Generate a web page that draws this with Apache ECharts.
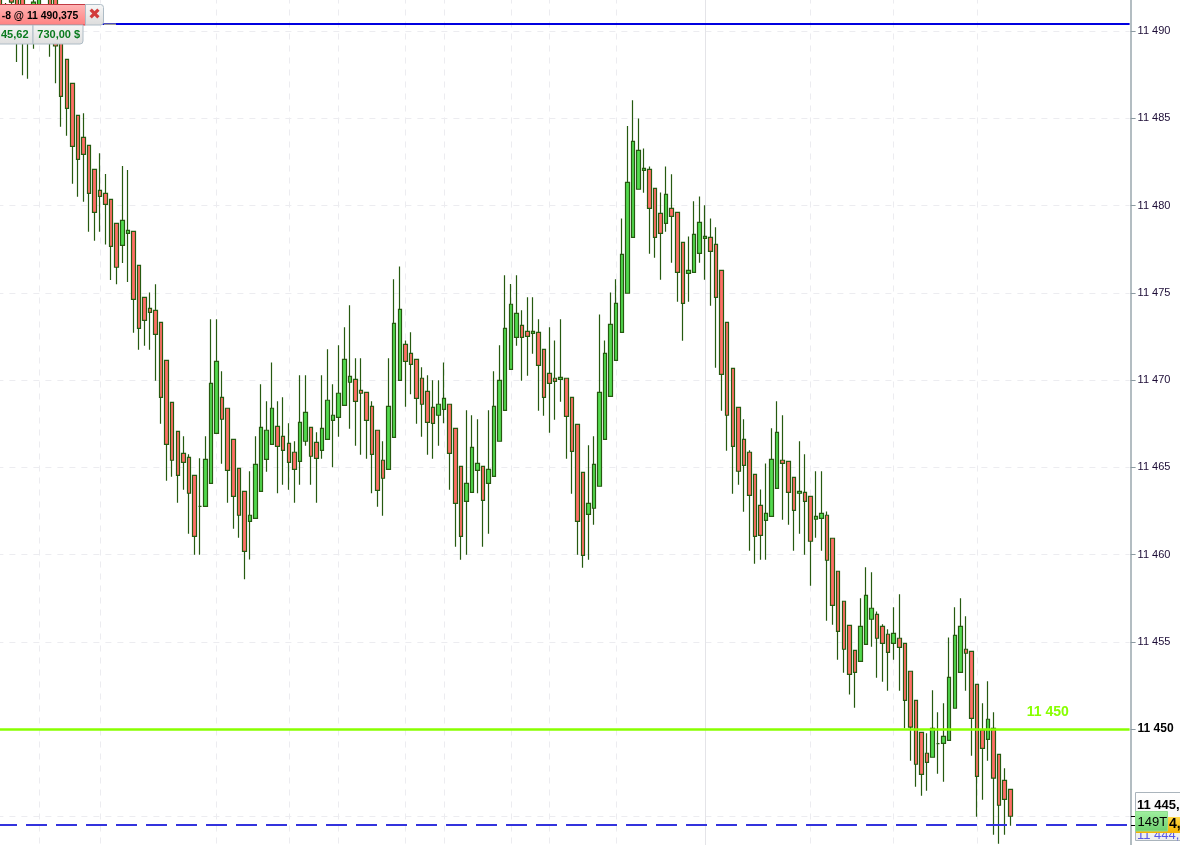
<!DOCTYPE html>
<html><head><meta charset="utf-8">
<style>html,body{margin:0;padding:0;background:#fff}#c{width:1180px;height:845px}</style>
<script src="https://cdn.jsdelivr.net/npm/echarts@6/dist/echarts.min.js"></script>
</head><body><div id="c"></div>
<script>
const opens=[11492.06,11490.06,11492.35,11492.06,11492.35,11490.63,11490.06,11490.17,11490.63,11492.06,
11491.94,11490.06,11488.37,11487,11485.17,11483.9,11483.45,11482.07,11480.87,11480.7,
11480.35,11478.98,11477.72,11478.4,11478.52,11476.57,11474.74,11474.11,11473.99,11473.3,
11471.13,11468.72,11467.06,11465.8,11465.57,11464.54,11462.76,11462.76,11464.08,11466.94,
11469.01,11468.38,11466.6,11464.94,11463.62,11461.9,11462.07,11463.62,11465.45,11466.31,
11467.34,11466.77,11466.37,11465.86,11465.34,11466.49,11467.29,11466.43,11465.97,11466.6,
11467.69,11467.86,11468.55,11469.87,11470.04,11469.41,11469.29,11468.49,11467.12,11465.4,
11464.88,11466.71,11469.98,11472.04,11471.53,11471.18,11470.1,11469.35,11468.43,11467.98,
11468.32,11468.61,11467.23,11465.05,11463.05,11463.56,11464.82,11465.05,11464.08,11464.48,
11466.49,11468.26,11470.61,11472.44,11473.13,11472.79,11472.67,11472.73,11471.76,11470.38,
11470.1,11470.04,11470.1,11469.01,11467.46,11464.71,11462.3,11462.65,11463.91,11466.6,
11469.06,11471.13,11472.73,11474.97,11478.17,11480.93,11482.01,11482.07,11480.98,11479.55,
11478.98,11479.84,11479.61,11477.89,11476.11,11476.17,11477.26,11478.12,11478.17,11477.77,
11476.28,11473.3,11470.67,11468.43,11466.6,11465.86,11464.59,11462.82,11461.96,11462.19,
11463.79,11465.4,11465.34,11464.42,11463.51,11463.56,11463.33,11462.02,11462.07,11462.25,
11460.93,11459.04,11457.32,11455.94,11454.51,11453.88,11454.85,11456.29,11456.57,11455.88,
11455.43,11454.91,11455.2,11454.91,11453.31,11451.64,11449.81,11448.61,11448.38,11449.16,
11449.18,11449.35,11451.19,11453.25,11454.57,11454.45,11452.56,11449.93,11449.41,11450.04,
11448.55,11447.06,11446.54];
const closes=[11490.06,11491.2,11491.66,11490.06,11489.77,11489.48,11491.66,11492.06,11490.06,11490.06,
11489.14,11486.25,11485.57,11483.39,11482.64,11482.93,11480.7,11479.61,11480.52,11480.07,
11477.66,11476.46,11479.15,11478.58,11474.62,11472.96,11473.42,11473.88,11472.62,11469.01,
11466.31,11465.4,11464.54,11465.28,11463.51,11461.04,11462.76,11465.45,11469.81,11471.07,
11467.75,11464.82,11463.33,11462.25,11460.18,11462.25,11465.17,11467.29,11467.12,11468.38,
11466.2,11465.97,11465.28,11464.88,11467.57,11468.15,11465.63,11465.51,11467.23,11468.84,
11467.98,11469.24,11471.18,11470.21,11468.78,11469.24,11467.69,11465.74,11463.68,11464.37,
11468.49,11473.25,11474.05,11471.07,11470.9,11468.95,11468.61,11467.57,11467.52,11468.61,
11468.95,11465.8,11462.93,11461.04,11464.08,11466.14,11465.22,11463.1,11464.88,11468.49,
11469.98,11472.96,11474.34,11473.82,11472.44,11472.5,11472.79,11470.84,11469.01,11469.81,
11469.92,11470.15,11467.92,11465.91,11461.9,11459.95,11462.93,11465.17,11469.29,11471.53,
11473.19,11474.39,11477.2,11481.33,11483.68,11483.16,11482.13,11479.84,11478.17,11478.4,
11480.64,11479.38,11476.17,11474.39,11476.28,11478.35,11479.03,11478.23,11477.37,11474.74,
11470.32,11467.98,11466.2,11464.77,11465.11,11463.39,11461.04,11461.1,11462.36,11465.45,
11467,11465.22,11463.56,11462.53,11463.62,11463.05,11460.76,11462.19,11462.36,11459.67,
11457.09,11455.6,11454.57,11453.13,11453.25,11455.88,11457.66,11456.92,11455.2,11454.91,
11454.39,11455.48,11454.68,11451.64,11450.11,11447.98,11447.4,11448.09,11450.04,11449.16,
11449.58,11452.96,11455.37,11455.88,11454.34,11450.61,11447.29,11448.89,11450.56,11447.18,
11445.63,11445.97,11445];
const lows=[11489.54,11489.6,11489.5,11488.22,11487.47,11487.26,11488.98,11489.48,11489.71,11488.52,
11487,11484.51,11484,11481.25,11480.5,11480.21,11478.5,11477.98,11478.5,11477.77,
11475.73,11475.48,11476.7,11475.61,11472.71,11471.73,11471.96,11471.73,11469.96,11467.49,
11464.23,11464.46,11462.97,11463.71,11461.19,11459.99,11459.99,11462.76,11464.08,11466.94,
11465.2,11462.97,11461.48,11460.96,11458.58,11459.72,11462.07,11463.62,11464.74,11466.31,
11463.51,11464,11463.71,11462.97,11464,11466.23,11464,11462.97,11465.49,11466.6,
11465,11466.75,11468.55,11467.21,11466.23,11465.72,11465.49,11463.51,11462.74,11462.22,
11464.88,11466.71,11469.98,11468.47,11469.18,11467.49,11466.75,11465.72,11465.49,11466.23,
11467.52,11463.71,11460.45,11459.7,11459.99,11463.56,11463.51,11460.45,11461.19,11464.48,
11466.49,11468.26,11470.61,11471.96,11469.96,11470.24,11471.5,11468.24,11467.95,11466.98,
11467.72,11468.75,11465.49,11463.48,11459.99,11459.24,11459.7,11461.71,11463.91,11466.6,
11469.06,11471.13,11472.73,11474.97,11478.17,11480.93,11480.73,11477.24,11477.01,11475.75,
11478.5,11476.72,11474.49,11472.25,11474.49,11476.17,11476.72,11475.75,11474.26,11470.7,
11468.24,11465.95,11463.48,11464,11462.45,11460.22,11459.47,11459.7,11459.7,11462.19,
11463.79,11461.99,11461.71,11460.22,11461.19,11459.99,11458.21,11460.96,11460.22,11456.21,
11455.98,11453.97,11453.23,11451.97,11451.22,11453.88,11454.85,11454.72,11452.94,11452.71,
11452.19,11453.97,11452.19,11450.04,11448.18,11446.69,11446.18,11446.46,11448.38,11447.44,
11446.98,11449.35,11451.19,11453.25,11452.19,11448.47,11444.97,11445.95,11448.18,11443.94,
11443.43,11443.94,11444.46];
const highs=[11492.5,11491.6,11492.6,11492.5,11492.6,11490.97,11492.2,11492.4,11491,11492.4,
11492.3,11490.4,11488.37,11487,11485.17,11485.28,11483.45,11482.07,11482.99,11481.8,
11480.35,11478.98,11482.26,11482.03,11478.52,11476.57,11474.74,11475.02,11475.48,11473.3,
11471.13,11468.72,11467.06,11466.77,11465.74,11464.54,11465.51,11466.77,11473.48,11473.48,
11470.5,11468.38,11466.6,11464.94,11463.62,11464.77,11466.77,11469.75,11468.78,11471.01,
11468.78,11469.01,11467.52,11466.49,11470.27,11470.27,11467.29,11467,11470.27,11471.76,
11469.75,11471.99,11473.02,11474.28,11471.24,11471.24,11469.29,11468.78,11467.12,11466.49,
11471.24,11475.77,11476.51,11472.27,11472.73,11471.18,11470.73,11470.27,11469.98,11469.98,
11471.01,11468.61,11467.23,11465.05,11468.26,11467.98,11467.75,11465.05,11468.26,11470.5,
11471.99,11476.01,11475.5,11476,11473.99,11474.74,11474.74,11473.48,11471.76,11473.02,
11472.27,11473.48,11470.1,11469.01,11467.46,11464.71,11466.26,11466.77,11473.76,11472.27,
11475.02,11475.77,11479.26,11484.55,11486.03,11484.99,11483.27,11482.24,11480.98,11480.75,
11482.24,11481.79,11479.61,11477.89,11478.23,11480.24,11480.52,11480.01,11479.26,11478.75,
11476.28,11473.3,11470.67,11468.43,11467.75,11465.97,11464.59,11463.73,11465.22,11467.23,
11468.78,11467.98,11465.34,11464.42,11466.49,11465.74,11463.33,11464.77,11464.77,11462.47,
11460.93,11459.04,11457.32,11455.94,11454.51,11457.49,11459.27,11458.98,11456.74,11456,
11455.71,11456.97,11457.72,11454.91,11453.31,11451.64,11449.81,11449.75,11452.22,11450.96,
11451.47,11455.25,11456.97,11457.49,11456.46,11454.45,11452.56,11451.47,11452.73,11450.96,
11448.55,11447.75,11446.54];
const slotCount=204;
const slots=Array.from({length:slotCount},(_,i)=>String(i));
const dashedVerticals=[7,18,39,52,61,73,80,92,99,111,146,161,176];
const solidVerticals=[127];
const blueLevel=11490.4, greenLevel=11450, dashedLevel=11444.5;
const yTickLabels={11490:'11 490',11485:'11 485',11480:'11 480',11475:'11 475',11470:'11 470',11465:'11 465',11460:'11 460',11455:'11 455',11450:'{b|11 450}'};

const barStep=5.55, pxPerUnit=17.45;
const candles=opens.map((o,i)=>[o,closes[i],lows[i],highs[i]]);
const chart=echarts.init(document.getElementById('c'),null,{renderer:'canvas'});
const FONT='"Liberation Sans",Arial,sans-serif';
const txt=(x,y,text,fontSize,fill,weight,extra,el)=>Object.assign({type:'text',z:30,silent:true,x,y,style:Object.assign({text,fontSize,fontFamily:FONT,fontWeight:weight||'normal',fill,textVerticalAlign:'middle'},extra||{})},el||{});
const box=(x,y,w,h,fill,stroke,z,r)=>({type:'rect',z:z||20,silent:true,shape:{x,y,width:w,height:h,r:r||0},style:{fill,stroke:stroke||null,lineWidth:1}});
const grad=(a,b)=>new echarts.graphic.LinearGradient(0,0,0,1,[{offset:0,color:a},{offset:1,color:b}]);
chart.setOption({
  animation:false,
  backgroundColor:'#fff',
  grid:{left:-2.6,top:729-45*pxPerUnit,width:slotCount*barStep,height:55*pxPerUnit,containLabel:false,outerBoundsMode:'none'},
  xAxis:{type:'category',data:slots,boundaryGap:true,axisLine:{show:false},axisTick:{show:false},axisLabel:{show:false},splitLine:{show:false}},
  yAxis:{type:'value',position:'right',offset:1,min:11440,max:11495,interval:5,scale:true,
    axisLine:{show:true,lineStyle:{color:'#9aa7ae',width:1.5}},
    axisTick:{show:true,length:5,lineStyle:{color:'#8c9aa2'}},
    splitLine:{show:true,lineStyle:{color:'#ececf0',type:[6,6],width:1}},
    axisLabel:{margin:7,fontSize:11,fontFamily:FONT,color:'#1c0c36',
      formatter:v=>yTickLabels[v]||'',
      rich:{b:{fontSize:12,fontWeight:'bold',color:'#000',fontFamily:FONT}}}},
  series:[
    {type:'line',data:[],silent:true,z:1,
      markLine:{silent:true,z:1,symbol:'none',animation:false,label:{show:false},
        data:[
          ...dashedVerticals.map(x=>({xAxis:x,lineStyle:{color:'#ececf0',type:[6,6],width:1}})),
          ...solidVerticals.map(x=>({xAxis:x,lineStyle:{color:'#e4e4e8',type:'solid',width:1}}))
        ]}},
    {type:'candlestick',z:3,barWidth:4,data:candles,
      itemStyle:{color:'#52d94e',color0:'#ff6e66',borderColor:'#265a10',borderColor0:'#265a10',borderColorDoji:'#265a10',borderWidth:1.2},
      markLine:{silent:true,z:5,symbol:'none',animation:false,label:{show:false},precision:4,
        data:[
          {yAxis:blueLevel,lineStyle:{color:'#0000e0',type:'solid',width:2}},
          {yAxis:greenLevel,lineStyle:{color:'#88ff00',type:'solid',width:2.5}},
          {yAxis:dashedLevel,lineStyle:{color:'#3333dd',type:[21,9],dashOffset:1.4,width:2}}
        ]}}
  ],
  graphic:[
    box(104,23.5,12,1.5,'#9a9a9a',null),
    txt(1026.7,712.5,'11 450',14,'#88ff00','bold'),
    // order tag, top left
    box(-2,4.5,87.5,20.5,grad('#ffb6b6','#ff8080'),'#c23a44'),
    box(85.5,4.5,18,20.5,grad('#f8f8f8','#dcdcdc'),'#aebcc6',20,[0,3,3,0]),
    txt(94.5,15,'✖',15,'#d23c3c','bold',{textAlign:'center',fontFamily:'"DejaVu Sans"'}),
    txt(1.7,15.5,'-8 @ 11 490,375',11.5,'#000','bold',null,{scaleX:0.905}),
    box(-2,25,35,19,grad('#f6f6f6','#dedede'),'#aebcc6'),
    box(33,25,50,19,grad('#f6f6f6','#dedede'),'#aebcc6',20,[0,0,3,0]),
    txt(1,35,'45,62',11,'#0a7a1e','bold'),
    txt(37.3,35,'730,00 $',11,'#0a7a1e','bold'),
    // price tags, bottom right
    box(1135.5,792.5,46,48,grad('#ffffff','#eeeeee'),'#aab4bc'),
    txt(1137,805,'11 445,',13,'#000','bold'),
    txt(1137,835.5,'11 444,5',13,'#5a5ae6','normal',null,{z:21}),
    box(1136,817,46,16,grad('#ffd84a','#f5b400'),null,22),
    txt(1169,824.5,'4,',14,'#000','bold'),
    box(1135.5,811.5,32,19.5,grad('#a0f0a0','#6ecf6e'),'#8fdc8f',25),
    txt(1137.5,822,'149T',13,'#000','normal'),
    {type:'line',z:22,silent:true,shape:{x1:1131,y1:816.5,x2:1135.5,y2:816.5},style:{stroke:'#000',lineWidth:1}},
    {type:'line',z:22,silent:true,shape:{x1:1131,y1:825.5,x2:1135.5,y2:825.5},style:{stroke:'#000',lineWidth:1}}
  ]
});
</script></body></html>
